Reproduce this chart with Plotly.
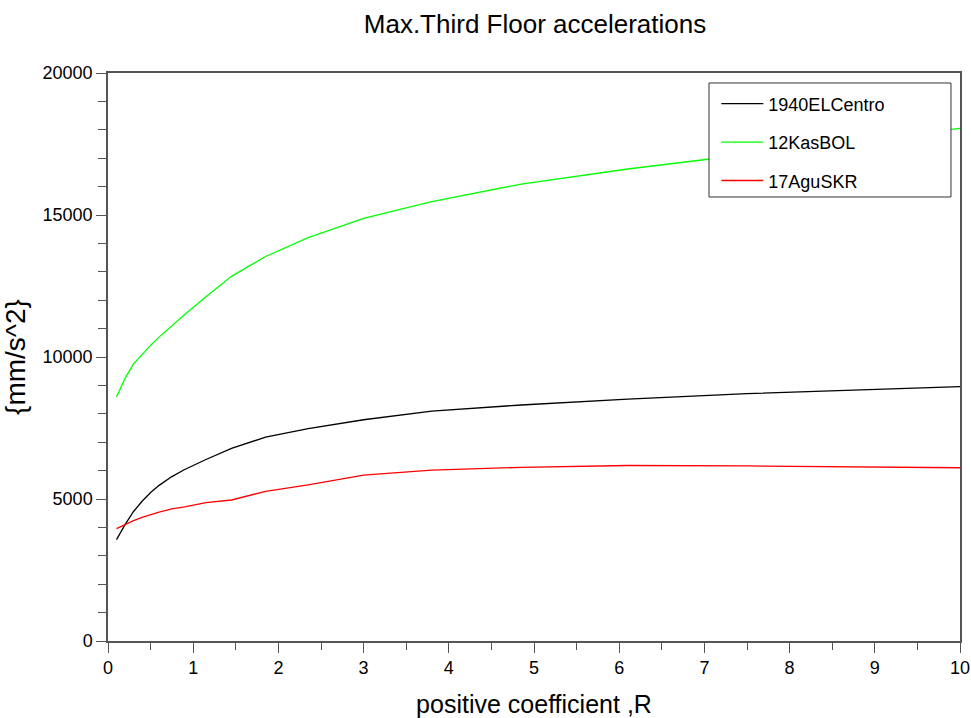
import plotly.graph_objects as go

R = [0.1, 0.2, 0.3, 0.4, 0.5, 0.6, 0.75, 0.9, 1.15, 1.45, 1.85, 2.35, 3.0, 3.8, 4.85, 6.1, 7.5, 10]
elcentro = [3570, 4100, 4560, 4920, 5230, 5480, 5790, 6040, 6390, 6780, 7180, 7480, 7790, 8095, 8310, 8515, 8710, 8955]
kasbol = [8590, 9250, 9760, 10100, 10410, 10700, 11100, 11500, 12120, 12840, 13540, 14200, 14880, 15470, 16090, 16620, 17130, 18050]
aguskr = [3960, 4110, 4240, 4350, 4450, 4540, 4650, 4720, 4870, 4965, 5270, 5500, 5840, 6020, 6115, 6180, 6165, 6100]

xticks = [0, 1, 2, 3, 4, 5, 6, 7, 8, 9, 10]
yticks = [0, 5000, 10000, 15000, 20000]

names = ["1940ELCentro", "12KasBOL", "17AguSKR"]
colors = ["#000000", "#00ff00", "#ff0000"]
series = [elcentro, kasbol, aguskr]

fig = go.Figure()
for n, c, s in zip(names, colors, series):
    fig.add_trace(go.Scatter(x=R, y=s, mode="lines", name=n, legendgroup=n,
                             line=dict(color=c, width=1.3)))

font = "Liberation Sans, Arial, sans-serif"
axcol = "#555555"
fig.add_shape(type="rect", xref="paper", yref="paper",
              x0=0.7054, x1=0.9894, y0=0.7817, y1=0.9824,
              line=dict(color="#333333", width=1), fillcolor="white", layer="above")
fig.update_layout(
    width=971, height=718,
    margin=dict(l=108, r=11, t=73, b=77),
    paper_bgcolor="white", plot_bgcolor="white",
    title=dict(text="Max.Third Floor accelerations", x=0.551, xanchor="center",
               y=0.967, yanchor="middle", font=dict(family=font, size=26, color="black")),
    font=dict(family=font, color="black"),
    showlegend=True,
    legend=dict(x=0.714, y=0.978, xanchor="left", yanchor="top",
                bgcolor="rgba(0,0,0,0)", borderwidth=0,
                font=dict(family=font, size=18, color="black"),
                traceorder="grouped", tracegroupgap=12,
                itemwidth=42),
    xaxis=dict(range=[0, 10], tickmode="array", tickvals=xticks, ticktext=[str(v) for v in xticks],
               showgrid=False, zeroline=False, automargin=False,
               showline=True, linecolor=axcol, linewidth=1.5, mirror=True,
               ticks="outside", ticklen=10, tickcolor=axcol, tickwidth=1.2,
               tickfont=dict(family=font, size=18, color="black"),
               minor=dict(dtick=0.5, ticks="outside", ticklen=7, tickcolor=axcol, tickwidth=1.2, showgrid=False),
               title=dict(text="positive coefficient ,R", font=dict(family=font, size=25, color="black"), standoff=18)),
    yaxis=dict(range=[0, 20000], tickmode="array", tickvals=yticks, ticktext=[str(v) for v in yticks],
               showgrid=False, zeroline=False, automargin=False,
               showline=True, linecolor=axcol, linewidth=1.5, mirror=True,
               ticks="outside", ticklen=10, tickcolor=axcol, tickwidth=1.2,
               tickfont=dict(family=font, size=18, color="black"),
               minor=dict(dtick=1000, ticks="outside", ticklen=8, tickcolor=axcol, tickwidth=1.2, showgrid=False),
               title=dict(text="{mm/s^2}", font=dict(family=font, size=28, color="black"), standoff=10)),
)
fig.write_html("out.html", config={"displayModeBar": False},
               post_script="document.body.style.margin='0';document.body.style.overflow='hidden';")
